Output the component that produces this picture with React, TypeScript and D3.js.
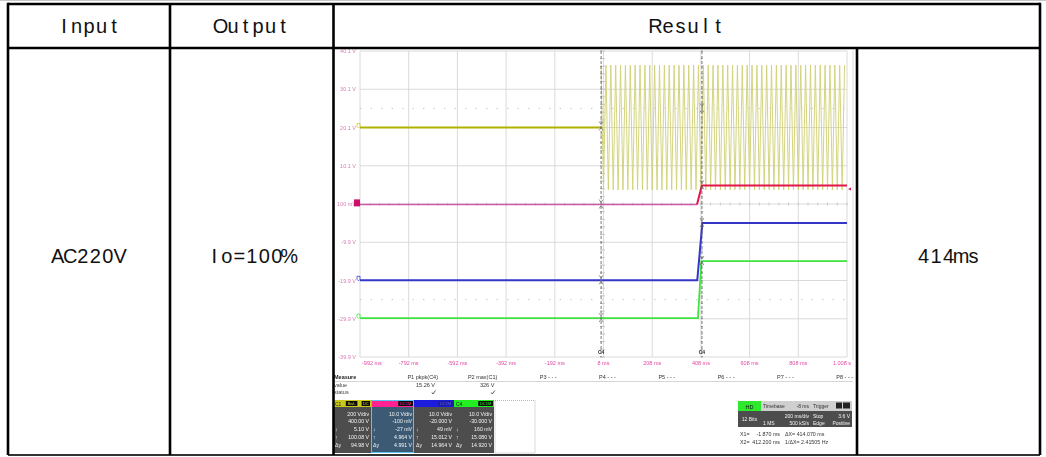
import * as d3 from "d3";

// table texts
const headerLabels = ["Input", "Output", "Result"];
const rowLabels = ["AC220V", "Io=100%", "414ms"];

// scope axes
const yTickLabels = ["40.1 V", "30.1 V", "20.1 V", "10.1 V", "100 mV", "-9.9 V", "-19.9 V", "-29.9 V", "-39.9 V"];
const timeTickLabels = ["-992 ms", "-792 ms", "-592 ms", "-392 ms", "-192 ms", "8 ms", "208 ms", "408 ms", "608 ms", "808 ms", "1.008 s"];
const timeDomain = [-992, 1008];
const levelMarkersDiv = [2.5, -2.5];

// channels
const channelNames = ["C1", "C2", "C3", "C4"];
const channelVoltsPerDiv = [200, 10, 10, 10];
const channelOffsets = [400, -0.1, -20, -30];
const channelCouplings = [["BwL", "DC"], ["DC1M"], ["DC1M"], ["DC1M"]];

// traces (ms, V)
const c1DcTimes = [-992, -2];
const c1DcVolts = [0, 0];
const acStartMs = -2;
const acEndMs = 1008;
const acPeriodMs = 20;
const acPeakVolts = 326;
const c2Times = [-992, 392, 412, 1008];
const c2Volts = [-0.027, -0.027, 4.964, 4.964];
const c3Times = [-992, 393, 414, 1008];
const c3Volts = [0.049, 0.049, 15.012, 15.012];
const c4Times = [-992, 396, 410, 1008];
const c4Volts = [0.16, 0.16, 15.08, 15.08];

// cursors
const cursorTimes = [-1.87, 412.2];
const cursorC1 = [5.1, 100.08];
const cursorC2 = [-0.027, 4.964];
const cursorC3 = [0.049, 15.012];
const cursorC4 = [0.16, 15.08];

// measurement table
const measureHeaders = ["P1 pkpk(C4)", "P2 max(C1)", "P3 - - -", "P4 - - -", "P5 - - -", "P6 - - -", "P7 - - -", "P8 - - -"];
const measureValues = ["15.26 V", "326 V", "", "", "", "", "", ""];
const measureStatus = [true, true, false, false, false, false, false, false];

// channel descriptor boxes
const descVdiv = ["200 V/div", "10.0 V/div", "10.0 V/div", "10.0 V/div"];
const descOffset = ["400.00 V", "-100 mV", "-20.000 V", "-30.000 V"];
const descCursor1 = ["5.10 V", "-27 mV", "49 mV", "160 mV"];
const descCursor2 = ["100.08 V", "4.964 V", "15.012 V", "15.080 V"];
const descDelta = ["94.98 V", "4.991 V", "14.964 V", "14.920 V"];

const channelColors = ["#c9c91c", "#ff2490", "#1f1fdc", "#22ee22"];

const MonoText = ({ text, cx, cy, adv = 12.5, size = 20 }: { text: string; cx: number; cy: number; adv?: number; size?: number }) => {
  const chars = text.split("");
  const x0 = cx - (chars.length * adv) / 2;
  return (
    <g fontFamily="'Liberation Sans', Arial, sans-serif" fontSize={size} fill="#111" textAnchor="middle" dominantBaseline="central">
      {chars.map((c, i) => (
        <text key={i} x={x0 + adv * (i + 0.5)} y={cy}>{c}</text>
      ))}
    </g>
  );
};

const Scope = () => {
  const x = d3.scaleLinear().domain(timeDomain).range([360, 847]);
  const y = d3.scaleLinear().domain([-4, 4]).range([357, 51]);
  const toDiv = (ch: number, v: number) => (v + channelOffsets[ch]) / channelVoltsPerDiv[ch];
  const line = (ch: number) =>
    d3.line<[number, number]>().x((d) => x(d[0])).y((d) => y(toDiv(ch, d[1])));

  const zip = (t: number[], v: number[]) => t.map((tt, i) => [tt, v[i]] as [number, number]);

  // AC band: peak / trough every half period
  const acPoints: [number, number][] = d3
    .range(acStartMs, acEndMs, acPeriodMs / 2)
    .map((t, i) => [t, i % 2 === 0 ? acPeakVolts : -acPeakVolts]);

  const xDivs = d3.range(0, 11);
  const yDivs = d3.range(-4, 5);
  const divW = (847 - 360) / 10;
  const minor = d3.range(-20, 21).map((k) => k / 5);
  const minorX = d3.range(0, 51).map((k) => k / 5);

  const cursorVals = [cursorC1, cursorC2, cursorC3, cursorC4];

  const mColRight = (i: number) => 438 + i * 59.3;

  const boxX = [333, 371, 414, 454, 495];
  const boxW = [38, 43, 40, 40, 40];
  const bodyLines = [descVdiv, descOffset, descCursor1, descCursor2, descDelta];
  const bodySym = ["", "", "↓", "↑", "Δy"];
  const lineY = [415.5, 422.5, 430.5, 438.5, 447];

  return (
    <g filter="url(#soft)" fontFamily="'Liberation Sans', Arial, sans-serif">
      <rect x={335} y={50} width={519} height={404} fill="#fff" />
      <line x1={853} x2={853} y1={50} y2={360} stroke="#dcdcdc" />
      {/* grid */}
      {xDivs.map((i) => (
        <line key={"gx" + i} x1={360 + i * divW} x2={360 + i * divW} y1={51} y2={357} stroke="#d6d6d6" strokeWidth={0.9} />
      ))}
      {yDivs.map((j) => (
        <line key={"gy" + j} x1={360} x2={847} y1={y(j)} y2={y(j)} stroke="#d6d6d6" strokeWidth={0.9} />
      ))}
      {minorX.map((k) => (
        <line key={"mx" + k} x1={360 + k * divW} x2={360 + k * divW} y1={y(0) - 1.5} y2={y(0) + 1.5} stroke="#bbb" strokeWidth={0.7} />
      ))}
      {minor.map((k) => (
        <line key={"my" + k} x1={x(8) - 1.5} x2={x(8) + 1.5} y1={y(k)} y2={y(k)} stroke="#bbb" strokeWidth={0.7} />
      ))}
      {levelMarkersDiv.map((d) => (
        <line key={"lv" + d} x1={360} x2={847} y1={y(d)} y2={y(d)} stroke="#c8c8c8" strokeWidth={1} strokeDasharray="1.5,9" />
      ))}

      {/* y labels */}
      {yTickLabels.map((l, i) => (
        <text key={"yl" + i} x={356} y={y(4 - i) + 2} fontSize={5.5} fill="#d782b6" textAnchor="end">{l}</text>
      ))}
      {/* time labels */}
      {timeTickLabels.map((l, i) => (
        <text key={"tl" + i} x={i === 0 ? 362 : i === 10 ? 851 : 360 + i * divW} y={365} fontSize={5.5} fill="#e04aa4"
          textAnchor={i === 0 ? "start" : i === 10 ? "end" : "middle"}>{l}</text>
      ))}

      {/* traces */}
      <path d={line(0)(acPoints) || ""} fill="none" stroke="#d2d27a" strokeWidth={0.95} />
      <path d={line(0)(zip(c1DcTimes, c1DcVolts)) || ""} fill="none" stroke="#b0b000" strokeWidth={2} />
      <path d={line(1)(zip(c2Times.slice(0, 2), c2Volts.slice(0, 2))) || ""} fill="none" stroke="#cf5aa6" strokeWidth={1.3} />
      <path d={line(1)(zip(c2Times.slice(1), c2Volts.slice(1))) || ""} fill="none" stroke="#e2184e" strokeWidth={2} />
      <path d={line(2)(zip(c3Times, c3Volts)) || ""} fill="none" stroke="#3434c6" strokeWidth={2} />
      <path d={line(3)(zip(c4Times, c4Volts)) || ""} fill="none" stroke="#3ee43e" strokeWidth={1.8} />

      {/* cursors */}
      {cursorTimes.map((t, ci) => (
        <g key={"cur" + ci}>
          <line x1={x(t)} x2={x(t)} y1={51} y2={357} stroke="#555" strokeWidth={0.8} strokeDasharray="3,2" />
          {minor.map((k) => (
            <line key={k} x1={x(t) - 1} x2={x(t) + 1} y1={y(k)} y2={y(k)} stroke="#777" strokeWidth={0.6} />
          ))}
          {cursorVals.map((vals, ch) => (
            <path key={"m" + ch} d={`M${x(t) - 2},${y(toDiv(ch, vals[ci])) - 5}l2,3l2,-3M${x(t) - 2},${y(toDiv(ch, vals[ci])) + 4}l2,-3l2,3`}
              fill="none" stroke="#666" strokeWidth={0.7} />
          ))}
          <text x={x(t)} y={354} fontSize={5} fill="#333" textAnchor="middle" fontWeight="bold">C4</text>
        </g>
      ))}

      {/* ground markers */}
      <rect x={354} y={y(toDiv(1, 0)) - 5} width={6} height={7} fill="#d0106a" />
      {[0, 2, 3].map((ch) => {
        const gy = y(toDiv(ch, ch === 0 ? 0 : cursorVals[ch][0]));
        return (
          <path key={"gm" + ch} d={`M357,${gy - 4}h3v3l-1.5,1.5l-1.5,-1.5z`} fill="none"
            stroke={channelColors[ch]} strokeWidth={0.7} />
        );
      })}
      <path d={`M851,${y(toDiv(1, c2Volts[3])) + 2}l-3,1.5l3,1.5z`} fill="#e2184e" />

      {/* measurement table */}
      <text x={334} y={379} fontSize={5.5} fill="#222" fontWeight="bold">Measure</text>
      <text x={334} y={387} fontSize={5.5} fill="#444">value</text>
      <text x={334} y={394} fontSize={5.5} fill="#444">status</text>
      <line x1={333} x2={853} y1={381.5} y2={381.5} stroke="#bbb" strokeWidth={0.6} />
      {measureHeaders.map((h, i) => (
        <text key={"mh" + i} x={mColRight(i)} y={379} fontSize={5.5} fill="#333" textAnchor="end">{h}</text>
      ))}
      {measureValues.map((v, i) => (
        <text key={"mv" + i} x={mColRight(i) - 3} y={387} fontSize={5.5} fill="#333" textAnchor="end">{v}</text>
      ))}
      {measureStatus.map((s, i) =>
        s ? (
          <path key={"ms" + i} d={`M${mColRight(i) - 6},392.5l1,1.5l2.5,-3.5`} fill="none" stroke="#333" strokeWidth={0.8} />
        ) : null
      )}

      {/* channel descriptor boxes */}
      {channelNames.map((name, ch) => {
        const bx = boxX[ch];
        const bw = boxW[ch];
        const coup = channelCouplings[ch];
        return (
          <g key={"box" + ch}>
            <rect x={bx} y={400} width={bw} height={7} fill={channelColors[ch]} />
            {ch !== 1 && ch !== 2 ? (
              <text x={bx + 2} y={405.5} fontSize={5} fill="#222">{name}</text>
            ) : null}
            {coup.map((c, k) => {
              const cw = c.length * 3.2 + 2;
              const right = bx + bw - 1 - (coup.length - 1 - k) * (cw + 1);
              return (
                <g key={c}>
                  <rect x={right - cw} y={401} width={cw} height={5} fill={ch === 2 ? "#1a1a9a" : "#111"} />
                  <text x={right - cw / 2} y={405.2} fontSize={4} fill={ch === 2 ? "#6060ff" : channelColors[ch]} textAnchor="middle">{c}</text>
                </g>
              );
            })}
            <rect x={bx} y={407} width={bw} height={46} fill={ch === 1 ? "#3d5a74" : "#4d4d4d"} />
            {ch === 1 ? (
              <rect x={bx + 0.5} y={400.5} width={bw - 1} height={52} fill="none" stroke="#59c2f0" strokeWidth={1} />
            ) : null}
            {bodyLines.map((arr, li) => (
              <g key={"l" + li}>
                <text x={bx + bw - 2} y={lineY[li]} fontSize={5.2} fill="#f4f4f4" textAnchor="end">{arr[ch]}</text>
                {bodySym[li] ? (
                  <text x={bx + 2} y={lineY[li]} fontSize={5.2} fill="#f4f4f4">{bodySym[li]}</text>
                ) : null}
              </g>
            ))}
          </g>
        );
      })}
      <rect x={boxX[4]} y={400.5} width={boxW[4]} height={52.5} fill="none" stroke="#888" strokeWidth={0.6} strokeDasharray="1,1" />

      {/* acquisition boxes */}
      <rect x={738} y={401} width={23} height={10} fill="#2ee82e" />
      <text x={749.5} y={408.5} fontSize={5.5} fill="#111" textAnchor="middle">HD</text>
      <rect x={738} y={411} width={23} height={16} fill="#4d4d4d" />
      <text x={749.5} y={421} fontSize={5} fill="#f4f4f4" textAnchor="middle">12 Bits</text>

      <rect x={761} y={401} width={50} height={10} fill="#cfcfcf" />
      <text x={763} y={408} fontSize={5} fill="#333">Timebase</text>
      <text x={809} y={408} fontSize={5} fill="#333" textAnchor="end">-8 ms</text>
      <rect x={761} y={411} width={50} height={16} fill="#4d4d4d" />
      <text x={809} y={417.5} fontSize={5} fill="#f4f4f4" textAnchor="end">200 ms/div</text>
      <text x={763} y={425} fontSize={5} fill="#f4f4f4">1 MS</text>
      <text x={809} y={425} fontSize={5} fill="#f4f4f4" textAnchor="end">500 kS/s</text>

      <rect x={811} y={401} width={41} height={10} fill="#cfcfcf" />
      <text x={813} y={408} fontSize={5} fill="#333">Trigger</text>
      <rect x={836} y={402.5} width={6} height={6} fill="#222" />
      <rect x={843} y={402.5} width={7} height={6} fill="#222" />
      <rect x={811} y={411} width={41} height={16} fill="#4d4d4d" />
      <text x={813} y={417.5} fontSize={5} fill="#f4f4f4">Stop</text>
      <text x={850} y={417.5} fontSize={5} fill="#f4f4f4" textAnchor="end">3.6 V</text>
      <text x={813} y={425} fontSize={5} fill="#f4f4f4">Edge</text>
      <text x={850} y={425} fontSize={5} fill="#f4f4f4" textAnchor="end">Positive</text>

      <text x={740} y={436} fontSize={5.3} fill="#333">X1=</text>
      <text x={780} y={436} fontSize={5.3} fill="#333" textAnchor="end">{`${cursorTimes[0].toFixed(3)} ms`}</text>
      <text x={785} y={436} fontSize={5.3} fill="#333">{`ΔX= ${(cursorTimes[1] - cursorTimes[0]).toFixed(3)} ms`}</text>
      <text x={740} y={444} fontSize={5.3} fill="#333">X2=</text>
      <text x={780} y={444} fontSize={5.3} fill="#333" textAnchor="end">{`${cursorTimes[1].toFixed(3)} ms`}</text>
      <text x={785} y={444} fontSize={5.3} fill="#333">{`1/ΔX= ${(1000 / (cursorTimes[1] - cursorTimes[0])).toFixed(5)} Hz`}</text>
    </g>
  );
};

export default function App() {
  const colX = [8, 170, 333.5, 857, 1040];
  const top = 4;
  const headBottom = 48;
  const bottom = 455;
  const sw = 2.6;
  return (
    <svg width={1046} height={457} style={{ position: "absolute", left: 0, top: 0, background: "#fff" }}>
      <defs>
        <filter id="soft" x="0" y="0" width="1" height="1">
          <feGaussianBlur stdDeviation="0.3" />
        </filter>
      </defs>
      <rect width={1046} height={457} fill="#fff" />
      <line x1={0} x2={1046} y1={0.5} y2={0.5} stroke="#c8c8c8" />
      <Scope />

      {/* table grid */}
      <g stroke="#000" strokeWidth={sw}>
        <line x1={colX[0]} x2={colX[4]} y1={top} y2={top} />
        <line x1={colX[0]} x2={colX[4]} y1={headBottom} y2={headBottom} />
        <line x1={colX[0]} x2={colX[4]} y1={bottom} y2={bottom} stroke="#333" strokeWidth={2} />
        <line x1={colX[0]} x2={colX[0]} y1={top - sw / 2} y2={bottom} />
        <line x1={colX[1]} x2={colX[1]} y1={top} y2={bottom} />
        <line x1={colX[2]} x2={colX[2]} y1={top} y2={bottom} />
        <line x1={colX[3]} x2={colX[3]} y1={headBottom} y2={bottom} />
        <line x1={colX[4]} x2={colX[4]} y1={top - sw / 2} y2={bottom} />
      </g>

      <MonoText text={headerLabels[0]} cx={(colX[0] + colX[1]) / 2} cy={26} />
      <MonoText text={headerLabels[1]} cx={(colX[1] + colX[2]) / 2} cy={26} />
      <MonoText text={headerLabels[2]} cx={(colX[2] + colX[4]) / 2} cy={26} />
      <MonoText text={rowLabels[0]} cx={(colX[0] + colX[1]) / 2} cy={256} />
      <MonoText text={rowLabels[1]} cx={(colX[1] + colX[2]) / 2} cy={256} />
      <MonoText text={rowLabels[2]} cx={(colX[3] + colX[4]) / 2} cy={256} />
    </svg>
  );
}
